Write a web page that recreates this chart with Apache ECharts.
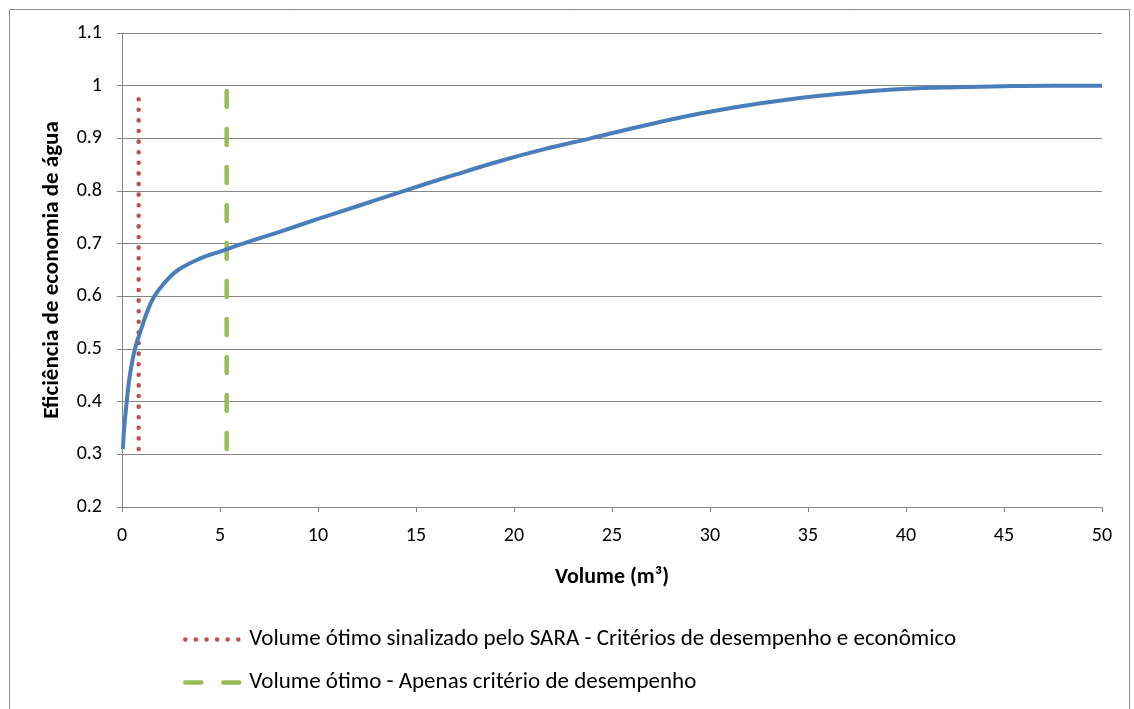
<!DOCTYPE html>
<html>
<head>
<meta charset="utf-8">
<script src="https://cdn.jsdelivr.net/npm/echarts@6/dist/echarts.min.js"></script>
<style>
html,body{margin:0;padding:0;background:#fff;}
#c{width:1134px;height:709px;}
</style>
</head>
<body>
<div id="c"></div>
<script>
// Curve: volume (m³) vs water-saving efficiency
var curveX = [0.05, 0.1, 0.24, 0.4, 0.66, 1.0, 1.3, 1.65, 2.2, 2.86, 4, 5, 6, 8, 10, 12, 14.2, 17, 19.3, 21.5, 23.9, 26.5, 29.5, 32.5, 35.6, 38, 40, 42.5, 45, 47.5, 50];
var curveY = [0.31, 0.345, 0.40, 0.45, 0.50, 0.54, 0.572, 0.60, 0.627, 0.65, 0.672, 0.685, 0.698, 0.722, 0.747, 0.771, 0.798, 0.831, 0.857, 0.879, 0.90, 0.923, 0.947, 0.966, 0.981, 0.989, 0.994, 0.997, 0.999, 1.0, 1.0];
// Optimal volume markers
var saraX = [0.85, 0.85];
var saraY = [0.31, 0.99];
var perfX = [5.34, 5.34];
var perfY = [0.31, 1.0];
var yTicks = [0.2, 0.3, 0.4, 0.5, 0.6, 0.7, 0.8, 0.9, 1, 1.1];
var xTicks = [0, 5, 10, 15, 20, 25, 30, 35, 40, 45, 50];
var seriesNames = ['Volume ótimo sinalizado pelo SARA - Critérios de desempenho e econômico', 'Volume ótimo - Apenas critério de desempenho'];

function zip(a, b) { return a.map(function (v, i) { return [v, b[i]]; }); }

var font = 'Carlito, Lato, "Open Sans", sans-serif';
var red = '#c0504d', green = '#9bbb59', blue = '#4a7ebb';
var redLine = {color: red, width: 4.5, type: [0.1, 10.5], cap: 'round'};
var greenLine = {color: green, width: 4.5, type: [16, 22], cap: 'round'};
var chart = echarts.init(document.getElementById('c'), null, {renderer: 'canvas'});
chart.setOption({
  backgroundColor: '#fff',
  animation: false,
  graphic: [{
    type: 'rect', left: 7, top: 7, silent: true,
    shape: {x: 0, y: 0, width: 1120, height: 720},
    style: {fill: 'none', stroke: '#8c8c8c', lineWidth: 1}
  }],
  grid: {left: 122, right: 32, top: 33, bottom: 202, containLabel: false},
  xAxis: {
    type: 'value', min: xTicks[0], max: xTicks[xTicks.length - 1], interval: 5,
    name: 'Volume (m³)', nameLocation: 'middle', nameGap: 59,
    nameTextStyle: {fontFamily: font, fontSize: 22, fontWeight: 'bold', color: '#000'},
    axisLine: {show: true, onZero: false, lineStyle: {color: '#868686', width: 1}},
    axisTick: {show: true, length: 5, lineStyle: {color: '#868686'}},
    axisLabel: {fontFamily: font, fontSize: 20, color: '#000', margin: 19,
      formatter: function (v) { return String(v); }},
    splitLine: {show: false}
  },
  yAxis: {
    type: 'value', min: yTicks[0], max: yTicks[yTicks.length - 1], interval: 0.1,
    name: 'Eficiência de economia de água', nameLocation: 'middle', nameGap: 58, nameRotate: 90,
    nameTextStyle: {fontFamily: font, fontSize: 23, fontWeight: 'bold', color: '#000'},
    axisLine: {show: true, lineStyle: {color: '#868686', width: 1}},
    axisTick: {show: true, length: 5, lineStyle: {color: '#868686'}},
    axisLabel: {fontFamily: font, fontSize: 20, color: '#000', margin: 20,
      formatter: function (v) { return String(Math.round(v * 10) / 10); }},
    splitLine: {show: true, lineStyle: {color: '#868686', width: 1}}
  },
  legend: {
    orient: 'vertical', left: 178, top: 623, itemGap: 20,
    itemWidth: 59, itemHeight: 27,
    data: [
      {name: seriesNames[0], itemStyle: {color: 'transparent', borderWidth: 0, opacity: 0}, lineStyle: redLine},
      {name: seriesNames[1], itemStyle: {color: 'transparent', borderWidth: 0, opacity: 0}, lineStyle: greenLine}
    ],
    textStyle: {fontFamily: font, fontSize: 23, color: '#000'}
  },
  series: [
    {
      name: 'curve', type: 'line', data: zip(curveX, curveY),
      smooth: 0.4, showSymbol: false, symbol: 'none',
      lineStyle: {color: blue, width: 4}, z: 3
    },
    {
      name: seriesNames[0], type: 'line', data: zip(saraX, saraY),
      showSymbol: false, symbol: 'none', color: red,
      lineStyle: redLine, z: 2
    },
    {
      name: seriesNames[1], type: 'line', data: zip(perfX, perfY),
      showSymbol: false, symbol: 'none', color: green,
      lineStyle: greenLine, z: 2
    }
  ]
});
</script>
</body>
</html>
